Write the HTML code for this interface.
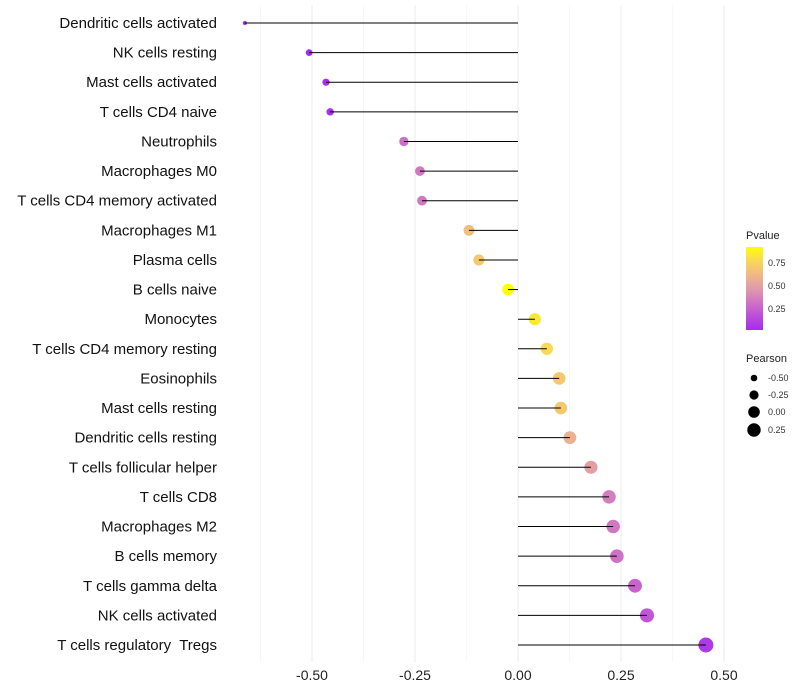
<!DOCTYPE html>
<html><head><meta charset="utf-8"><style>
body{margin:0;background:#fff;}
svg{display:block;font-family:"Liberation Sans",sans-serif;}
</style></head><body>
<svg id="chart" width="800" height="700">
<defs>
<linearGradient id="pg" x1="0" y1="1" x2="0" y2="0">
<stop offset="0" stop-color="#A52AF0"/><stop offset="0.3" stop-color="#CB6CC8"/><stop offset="0.5" stop-color="#E09AAC"/><stop offset="0.7" stop-color="#F2BE7E"/><stop offset="0.85" stop-color="#F8DC50"/><stop offset="1" stop-color="#FFFF00"/>
</linearGradient>
</defs>
<g id="grid"></g>
<g id="marks"></g>
<g id="ylab"></g>
<g id="xlab"></g>
<g>
<text x="746" y="239" font-size="11" fill="#222">Pvalue</text>
<rect x="746" y="247" width="17" height="83" fill="url(#pg)"/>
<text x="768" y="266" font-size="9" fill="#333">0.75</text>
<text x="768" y="289" font-size="9" fill="#333">0.50</text>
<text x="768" y="312" font-size="9" fill="#333">0.25</text>
</g>
<g>
<text x="746" y="362" font-size="11" fill="#222">Pearson</text>
<circle cx="754" cy="378" r="3.3" fill="#000"/><text x="768" y="381" font-size="9" fill="#333">-0.50</text>
<circle cx="754" cy="395" r="4.6" fill="#000"/><text x="768" y="398" font-size="9" fill="#333">-0.25</text>
<circle cx="754" cy="412" r="5.8" fill="#000"/><text x="768" y="415" font-size="9" fill="#333">0.00</text>
<circle cx="754" cy="430" r="6.7" fill="#000"/><text x="768" y="433" font-size="9" fill="#333">0.25</text>
</g>
</svg>
<script>
const categories=["Dendritic cells activated","NK cells resting","Mast cells activated","T cells CD4 naive","Neutrophils","Macrophages M0","T cells CD4 memory activated","Macrophages M1","Plasma cells","B cells naive","Monocytes","T cells CD4 memory resting","Eosinophils","Mast cells resting","Dendritic cells resting","T cells follicular helper","T cells CD8","Macrophages M2","B cells memory","T cells gamma delta","NK cells activated","T cells regulatory  Tregs"];
const pearson=[-0.663,-0.507,-0.466,-0.456,-0.277,-0.238,-0.233,-0.119,-0.095,-0.024,0.041,0.070,0.100,0.104,0.126,0.177,0.221,0.231,0.240,0.284,0.313,0.456];
const pvalue=[0.02,0.03,0.04,0.05,0.30,0.34,0.34,0.65,0.70,0.92,0.83,0.78,0.70,0.70,0.59,0.50,0.36,0.34,0.31,0.26,0.20,0.08];
const xTicks=[-0.5,-0.25,0,0.25,0.5];
const xTickLabels=["-0.50","-0.25","0.00","0.25","0.50"];
const NS="http://www.w3.org/2000/svg";
const X=v=>518+v*412;
const Y=i=>23+i*(622/(categories.length-1));
const R=v=>Math.sqrt(Math.max(1,35+46.7*v));
const stops=[[0,[165,42,240]],[0.3,[203,108,200]],[0.5,[224,154,172]],[0.7,[242,190,126]],[0.85,[248,220,80]],[1,[255,255,0]]];
function col(p){let t=(p-0.02)/0.9;t=Math.max(0,Math.min(1,t));
for(let k=1;k<stops.length;k++){if(t<=stops[k][0]){const a=stops[k-1],b=stops[k];const f=(t-a[0])/(b[0]-a[0]);const c=a[1].map((x,i)=>Math.round(x+(b[1][i]-x)*f));return `rgb(${c[0]},${c[1]},${c[2]})`;}}
return 'rgb(255,255,0)';}
function mk(tag,attrs,parent){const e=document.createElementNS(NS,tag);for(const k in attrs)e.setAttribute(k,attrs[k]);parent.appendChild(e);return e;}
const grid=document.getElementById('grid'),marks=document.getElementById('marks'),ylab=document.getElementById('ylab'),xlab=document.getElementById('xlab');
[-0.625,-0.375,-0.125,0.125,0.375].forEach(v=>{const l=mk('line',{x1:X(v),x2:X(v),y1:5,y2:662,stroke:'#f2f2f2','stroke-width':0.6},grid);

});
xTicks.forEach((v,i)=>{const l=mk('line',{x1:X(v),x2:X(v),y1:5,y2:662,stroke:'#ebebeb','stroke-width':1},grid);


const t=mk('text',{x:X(v),y:680,'text-anchor':'middle','font-size':14,fill:'#222'},xlab);t.textContent=xTickLabels[i];

});
categories.forEach((c,i)=>{const y=Y(i);
const t=mk('text',{x:217,y:y+5,'text-anchor':'end','font-size':15,fill:'#111',style:'white-space:pre'},ylab);t.textContent=c;


const pt=mk('circle',{cx:X(pearson[i]),cy:y,r:R(pearson[i]),fill:col(pvalue[i])},marks);


const ln=mk('line',{x1:X(0),x2:X(pearson[i]),y1:y,y2:y,stroke:'#000','stroke-width':1},marks);

});
</script>
</body></html>
